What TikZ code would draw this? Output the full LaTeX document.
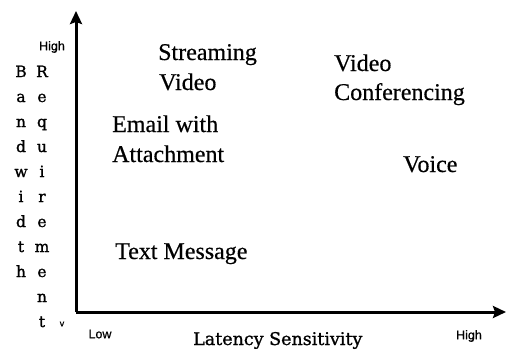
\documentclass[tikz,border=0pt]{standalone}
\usepackage{fontspec}
\setmainfont{Liberation Serif}[FakeBold=0.5]
\newfontfamily\dvs{DejaVu Serif}[FakeBold=1.2]
\newfontfamily\lsans{Liberation Sans}[FakeBold=0.8]
\usetikzlibrary{arrows.meta}
\begin{document}
\begin{tikzpicture}[x=1pt,y=-1pt,
  axis/.style={line width=3pt,-{Stealth[length=13pt,width=12pt,inset=2pt]}},
  lbl/.style={font=\fontsize{24}{30}\selectfont,anchor=base west,inner sep=0pt,align=left},
  vl/.style={font=\dvs\fontsize{15.5}{18}\selectfont,anchor=base,inner sep=0pt},
  tick/.style={font=\lsans\fontsize{12.5}{14}\selectfont,inner sep=0pt},
  axlbl/.style={font=\dvs\fontsize{17.5}{20}\selectfont,anchor=base west,inner sep=0pt}]
\useasboundingbox (0,0) rectangle (506,351);
\coordinate (o) at (76,312);
\coordinate (ytip) at (76,11);
\coordinate (xtip) at (506,312);
\draw[axis] (o) -- (ytip);
\draw[axis] (o) -- (xtip);
% labels
\node[lbl] (stream) at (158,60) {Streaming};
\node[lbl] (svideo) at (159,90) {Video};
\node[lbl] (vconf1) at (334,71) {Video};
\node[lbl] (vconf2) at (334,100) {Conferencing};
\node[lbl] (email1) at (112,132) {Email with};
\node[lbl] (email2) at (112,162) {Attachment};
\node[lbl] (voice) at (403,172) {Voice};
\node[lbl] (text) at (115,259) {Text Message};
% axis labels
\node[tick] (yhigh) at (52,47) {High};
\node[tick] (xlow) at (100,334) {Low};
\node[tick] (xhigh) at (469,336) {High};
\node[tick,font=\lsans\fontsize{9}{10}\selectfont] (vv) at (62,324) {v};
\node[axlbl] (lat) at (193,345) {Latency Sensitivity};
\foreach \l [count=\i from 0] in {B,a,n,d,w,i,d,t,h}
  \node[vl] (bw\i) at (21,77+25*\i) {\l};
\foreach \l [count=\i from 0] in {R,e,q,u,i,r,e,m,e,n,t}
  \node[vl] (rq\i) at (42,77+25*\i) {\l};
\end{tikzpicture}
\end{document}
